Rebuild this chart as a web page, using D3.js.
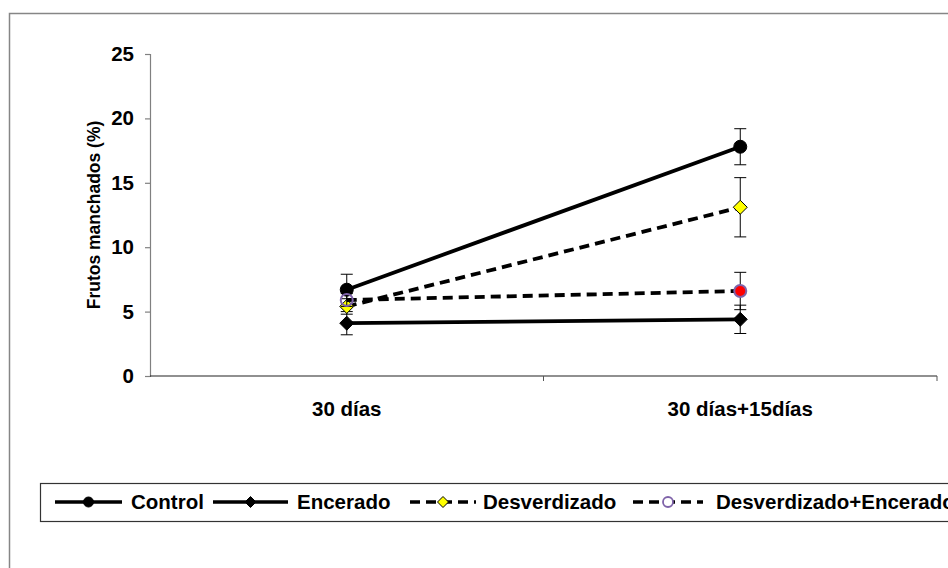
<!DOCTYPE html>
<html>
<head>
<meta charset="utf-8">
<script src="https://cdn.jsdelivr.net/npm/d3@7"></script>
<style>
  html, body { margin: 0; padding: 0; background: #fff; }
  svg { display: block; font-family: "Liberation Sans", Arial, sans-serif; font-weight: bold; }
</style>
</head>
<body>
<svg id="chart" width="948" height="568"></svg>
<script>
// ---- data ----
const categories = ["30 días", "30 días+15días"];
const seriesNames = ["Control", "Encerado", "Desverdizado", "Desverdizado+Encerado"];
const controlValues = [6.7, 17.8];
const controlErrors = [1.2, 1.4];
const enceradoValues = [4.1, 4.4];
const enceradoErrors = [0.9, 1.1];
const desverdizadoValues = [5.4, 13.1];
const desverdizadoErrors = [0.6, 2.3];
const desvEncValues = [5.9, 6.6];
const desvEncErrors = [0.5, 1.45];
const yTickValues = [0, 5, 10, 15, 20, 25];
const yAxisTitle = "Frutos manchados (%)";

// ---- styles (not data) ----
const purple = "#7f63a9";
const styles = [
  { dash: null, marker: "circle", fill: ["#000", "#000"], stroke: "#000", size: 6.5 },
  { dash: null, marker: "diamond", fill: ["#000", "#000"], stroke: "#000", size: 7 },
  { dash: "10,6", marker: "diamond", fill: ["#ffff00", "#ffff00"], stroke: "#000", size: 7 },
  { dash: "10,6", marker: "circle", fill: ["none", "#ff0000"], stroke: purple, size: 6 }
];
const series = [
  { name: seriesNames[0], values: controlValues, errors: controlErrors },
  { name: seriesNames[1], values: enceradoValues, errors: enceradoErrors },
  { name: seriesNames[2], values: desverdizadoValues, errors: desverdizadoErrors },
  { name: seriesNames[3], values: desvEncValues, errors: desvEncErrors }
];

const svg = d3.select("#chart");

// outer chart border (extends beyond right/bottom)
svg.append("rect").attr("x", 9.5).attr("y", 13.5).attr("width", 960).attr("height", 600)
  .attr("fill", "none").attr("stroke", "#868686").attr("stroke-width", 1.5);

const plot = { left: 150, right: 937, top: 54, bottom: 376 };

const x = d3.scaleBand().domain(categories).range([plot.left, plot.right]);
const y = d3.scaleLinear().domain([0, 25]).range([plot.bottom, plot.top]);

// y axis
const yAxis = svg.append("g").attr("transform", `translate(${plot.left},0)`)
  .call(d3.axisLeft(y).tickValues(yTickValues).tickSize(5).tickPadding(11).tickFormat(d3.format("d")));
yAxis.select(".domain").attr("stroke", "#808080").attr("stroke-width", 1.2);
yAxis.selectAll(".tick line").attr("stroke", "#808080").attr("stroke-width", 1.2);
yAxis.selectAll(".tick text").attr("font-size", 20.5).attr("font-weight", "bold")
  .attr("font-family", "Liberation Sans, Arial, sans-serif").attr("fill", "#000");

// x axis
const xAxisG = svg.append("g").attr("transform", `translate(0,${plot.bottom})`);
xAxisG.append("line").attr("x1", plot.left).attr("x2", plot.right).attr("y1", 0).attr("y2", 0)
  .attr("stroke", "#222").attr("stroke-width", 1.2);
const boundaries = categories.map(c => x(c)).concat([x(categories[categories.length - 1]) + x.bandwidth()]).slice(1);
xAxisG.selectAll("line.tk").data(boundaries).enter().append("line").attr("class", "tk")
  .attr("x1", d => d).attr("x2", d => d).attr("y1", 0).attr("y2", 5)
  .attr("stroke", "#555").attr("stroke-width", 1);
xAxisG.selectAll("text").data(categories).enter().append("text")
  .attr("x", d => x(d) + x.bandwidth() / 2).attr("y", 40)
  .attr("text-anchor", "middle").attr("font-size", 20.5).attr("fill", "#000").text(d => d);

// y axis title
svg.append("text").attr("transform", `translate(100,${(plot.top + plot.bottom) / 2}) rotate(-90)`)
  .attr("text-anchor", "middle").attr("font-size", 17.5).attr("fill", "#000").text(yAxisTitle);

const cx = c => x(c) + x.bandwidth() / 2;

function drawMarker(g, type, px, py, size, fill, stroke, sw) {
  if (type === "circle") {
    g.append("circle").attr("cx", px).attr("cy", py).attr("r", size)
      .attr("fill", fill).attr("stroke", stroke).attr("stroke-width", sw);
  } else {
    g.append("path").attr("d", `M${px},${py - size}L${px + size},${py}L${px},${py + size}L${px - size},${py}Z`)
      .attr("fill", fill).attr("stroke", stroke).attr("stroke-width", sw);
  }
}

const line = d3.line().x((d, i) => cx(categories[i])).y(d => y(d));

series.forEach((s, si) => {
  const st = styles[si];
  const g = svg.append("g");
  // error bars
  s.values.forEach((v, i) => {
    const px = cx(categories[i]);
    const e = s.errors[i];
    g.append("line").attr("x1", px).attr("x2", px).attr("y1", y(v + e)).attr("y2", y(v - e))
      .attr("stroke", "#000").attr("stroke-width", 1);
    [v + e, v - e].forEach(b => {
      g.append("line").attr("x1", px - 6).attr("x2", px + 6).attr("y1", y(b)).attr("y2", y(b))
        .attr("stroke", "#000").attr("stroke-width", 1);
    });
  });
  g.append("path").datum(s.values).attr("d", line).attr("fill", "none")
    .attr("stroke", "#000").attr("stroke-width", 3.8)
    .attr("stroke-dasharray", st.dash);
  s.values.forEach((v, i) => {
    drawMarker(g, st.marker, cx(categories[i]), y(v), st.size, st.fill[i], st.stroke,
      si === 3 ? 2 : 1);
  });
});

// legend
const legend = svg.append("g");
legend.append("rect").attr("x", 40.5).attr("y", 483.5).attr("width", 940).attr("height", 38)
  .attr("fill", "#fff").attr("stroke", "#333").attr("stroke-width", 1.2);
const legendPos = [
  { x1: 55, x2: 122, tx: 131 },
  { x1: 213, x2: 288, tx: 297 },
  { x1: 410, x2: 476, tx: 483 },
  { x1: 633, x2: 703, tx: 716 }
];
const ly = 502;
series.forEach((s, si) => {
  const st = styles[si];
  const p = legendPos[si];
  legend.append("line").attr("x1", p.x1).attr("x2", p.x2).attr("y1", ly).attr("y2", ly)
    .attr("stroke", "#000").attr("stroke-width", 3.5)
    .attr("stroke-dasharray", st.dash ? "10,6" : null);
  const mx = (p.x1 + p.x2) / 2;
  drawMarker(legend, st.marker, mx, ly, st.marker === "circle" ? 5 : 5.5,
    si === 3 ? "#fff" : st.fill[0], st.stroke, si === 3 ? 1.8 : 1);
  legend.append("text").attr("x", p.tx).attr("y", ly + 7).attr("font-size", 20.5)
    .attr("fill", "#000").text(s.name);
});
</script>
</body>
</html>
